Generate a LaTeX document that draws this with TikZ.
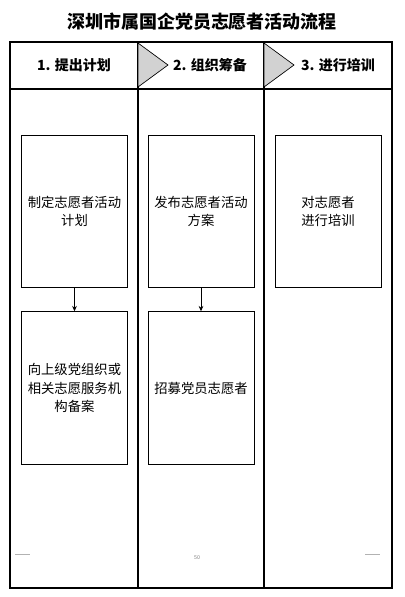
\documentclass[tikz,border=0pt]{standalone}
\usepackage{fontspec}
\setmainfont{Noto Sans CJK SC}
\usetikzlibrary{arrows.meta,positioning}

\begin{document}
\begin{tikzpicture}[x=0.75pt, y=-0.75pt,
  stepbox/.style={rectangle, draw, line width=0.6pt, minimum width=79.5pt,
              minimum height=114.5pt, font=\fontsize{10}{14}\selectfont, align=center, inner sep=1pt},
  head/.style={font=\fontsize{10.5}{12}\selectfont\bfseries},
  tri/.style={draw, line width=0.5pt, fill=gray!35},
  lane/.style={draw, line width=0.9pt},
  tick/.style={gray!60, line width=0.5pt},
  arr/.style={-{Stealth[length=4pt,width=3.5pt]}, line width=0.6pt}
]
\useasboundingbox (0,0) rectangle (404,597);

% Title
\node[font=\fontsize{13.5}{16}\selectfont\bfseries] (title) at (202,22) {深圳市属国企党员志愿者活动流程};

% Lanes
\draw[lane] (10,42) rectangle (392,588);
\draw[lane] (138,42) -- (138,588);
\draw[lane] (264,42) -- (264,588);
\draw[lane] (10,89) -- (392,89);
\draw[tri] (138,43) -- (168,65) -- (138,87) -- cycle;
\draw[tri] (264,43) -- (294,65) -- (264,87) -- cycle;

% Headers
\node[head] (h1) at (74,65)  {1. 提出计划};
\node[head] (h2) at (210,65) {2. 组织筹备};
\node[head] (h3) at (338,65) {3. 进行培训};

% Steps
\node[stepbox] (plan)    at (74.5,211.5) {制定志愿者活动\\计划};
\node[stepbox] (file)    at (74.5,388)   {向上级党组织或\\相关志愿服务机\\构备案};
\node[stepbox] (publish) at (201,211.5)  {发布志愿者活动\\方案};
\node[stepbox] (recruit) at (201,388)    {招募党员志愿者};
\node[stepbox] (train)   at (328,211.5)  {对志愿者\\进行培训};

% Arrows
\draw[arr] (plan) -- (file);
\draw[arr] (publish) -- (recruit);

% Footer
\draw[tick] (15,554) -- (30,554);
\draw[tick] (365,554) -- (380,554);
\node[font=\fontsize{4}{4}\selectfont, text=gray] (page) at (197,558) {50};
\end{tikzpicture}
\end{document}
